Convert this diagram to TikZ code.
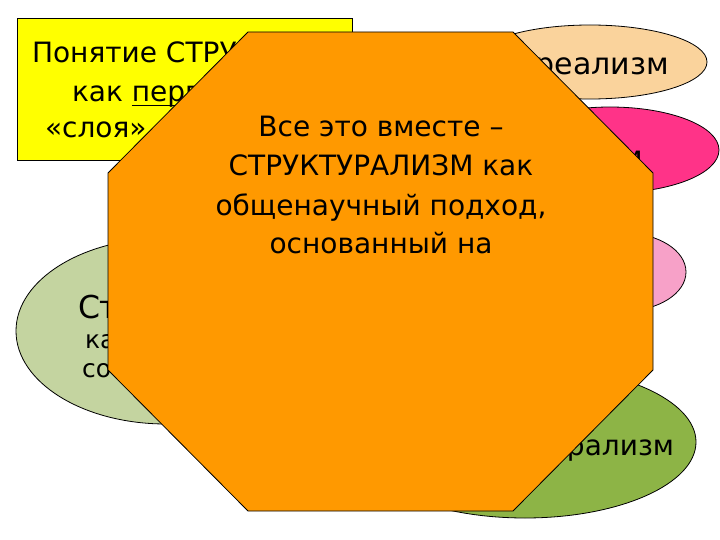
\documentclass[tikz,border=0pt]{standalone}
\usepackage{fontspec}
\setmainfont{DejaVu Sans}
\definecolor{yel}{RGB}{255,255,0}
\definecolor{octo}{RGB}{255,153,0}
\definecolor{peach}{RGB}{250,211,156}
\definecolor{hotpink}{RGB}{255,51,136}
\definecolor{ltpink}{RGB}{247,161,200}
\definecolor{sage}{RGB}{196,212,160}
\definecolor{olive}{RGB}{141,180,70}
\newcommand\myul[1]{\setbox0\hbox{#1}\rlap{\rule[-4.5pt]{\wd0}{1.6pt}}\box0}
\tikzset{
  shapeline/.style={draw=black, line width=0.8pt},
  txt/.style={inner sep=0pt, outer sep=0pt, text=black},
  big/.style={txt, font=\fontsize{28}{39}\selectfont},
  oval/.style={txt, font=\fontsize{30}{36}\selectfont},
}
\begin{document}
\begin{tikzpicture}[x=1pt,y=-1pt]
\useasboundingbox (0,0) rectangle (720,540);
% yellow box
\path[shapeline, fill=yel] (17,18) rectangle (352,160);
\node[big, anchor=base west] (y1) at (32,63) {Понятие СТРУ};
\node[big, anchor=base west] (y2) at (72,102) {как \myul{перв}};
\node[big, anchor=base west] (y3) at (45,138) {«слоя»};
% ellipses
\path[shapeline, fill=peach] (590,62) ellipse [x radius=117, y radius=37];
\node[oval, anchor=base east] (e1) at (669,75) {реализм};
\path[shapeline, fill=hotpink] (610,150) ellipse [x radius=109, y radius=43];
\node[oval, anchor=base east] (e2) at (643,168) {м};
\path[shapeline, fill=ltpink] (624,272) ellipse [x radius=62, y radius=39];
\path[shapeline, fill=sage] (166,331) ellipse [x radius=150, y radius=93];
\node[txt, anchor=base west, font=\fontsize{31.5}{36}\selectfont] (g1) at (78,318) {Ст};
\node[txt, anchor=base west, font=\fontsize{25}{30}\selectfont] (g2) at (85,348) {ка};
\node[txt, anchor=base west, font=\fontsize{25}{30}\selectfont] (g3) at (82,377) {со};
\path[shapeline, fill=olive] (525,442) ellipse [x radius=171, y radius=76];
\node[txt, anchor=base east, font=\fontsize{28}{34}\selectfont] (e5) at (674,455) {рализм};
% octagon
\path[shapeline, fill=octo] (248,32) -- (513,32) -- (653,173) -- (653,370)
  -- (513,511) -- (248,511) -- (108,370) -- (108,173) -- cycle;
\node[big, anchor=base] (o1) at (381,137) {Все это вместе –};
\node[big, anchor=base] (o2) at (381,176) {СТРУКТУРАЛИЗМ как};
\node[big, anchor=base] (o3) at (381,215) {общенаучный подход,};
\node[big, anchor=base] (o4) at (381,254) {основанный на};
\end{tikzpicture}
\end{document}
